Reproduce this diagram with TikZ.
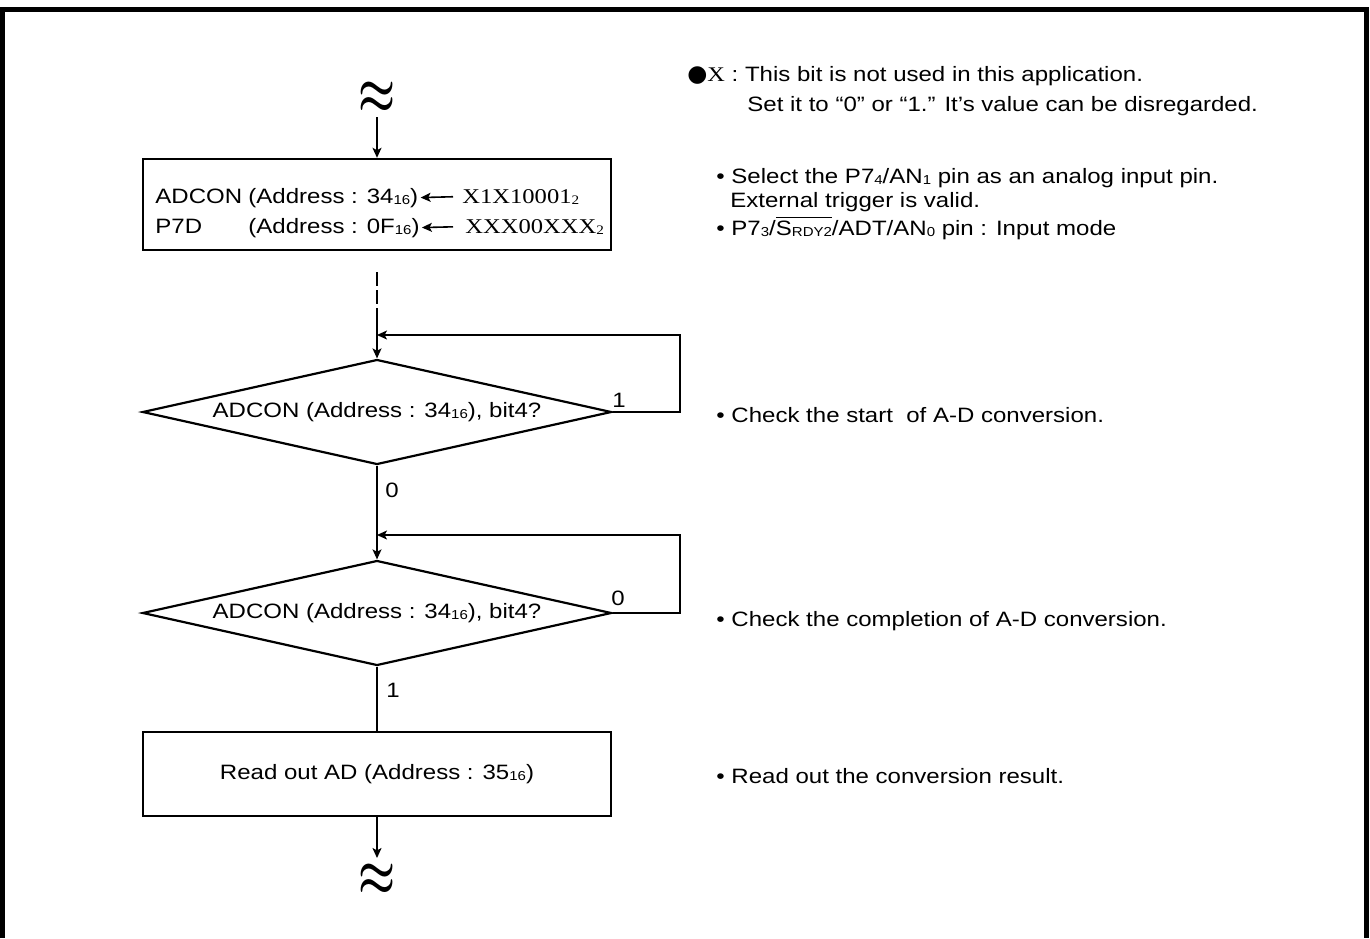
\documentclass[tikz,border=0pt]{standalone}
\usepackage{fontspec}
\setmainfont{Liberation Sans}[FakeStretch=1.155]
\newfontfamily\serifx{Liberation Serif}[FakeStretch=1.17]
\newfontfamily\dotfont{DejaVu Sans}
\usetikzlibrary{arrows.meta, positioning, calc, shapes.geometric}

% small index digits as printed in the data sheet
\newcommand{\subtxt}[1]{\raisebox{-0.5pt}{\fontsize{6.5}{6.5}\selectfont #1}}
% the break mark above and below the flow
\newcommand{\wavy}{\scalebox{1}[1.4]{\fontsize{21}{21}\selectfont\boldmath$\approx$}}

\begin{document}
\begin{tikzpicture}[x=0.5pt, y=-0.5pt, >={Stealth[length=5pt, width=4.5pt, inset=1.2pt]},
  every node/.style={font=\fontsize{10.4}{12}\selectfont, inner sep=0pt},
  procbox/.style={draw, line width=1.2pt, minimum width=234pt},
  decision/.style={diamond, draw, line width=1.1pt, aspect=4.47,
    minimum width=234.5pt, minimum height=52.5pt},
  flowline/.style={line width=0.8pt},
  loopline/.style={line width=0.6pt},
  note/.style={anchor=base west}]
  \useasboundingbox (0,0) rectangle (1370,938);

  % outer frame (open at the bottom)
  \draw[line width=2.5pt] (2.5,938) -- (2.5,9.5) -- (1366,9.5) -- (1366,938);

  % flow chart
  \node (topwave) at (377,98) {\wavy};
  \coordinate (entry) at (377,117);
  \node[procbox, minimum height=45.5pt] (setbox) at (377,204.5) {};
  \node[decision] (dec1) at (377,412) {ADCON (Address : 34\subtxt{16}), bit4?};
  \node[decision] (dec2) at (377,613) {ADCON (Address : 34\subtxt{16}), bit4?};
  \node[procbox, minimum height=42pt] (readbox) at (377,774) {Read out AD (Address : 35\subtxt{16})};
  \coordinate (exit) at (377,858);
  \node (botwave) at (377,880) {\wavy};

  % register settings in the first box
  \node[note] (adconname) at (155,203) {ADCON};
  \node[note] (adconaddr) at (248,203) {(Address : 34\subtxt{16})};
  \node[note, font=\fontsize{10.5}{12}\serifx] (adconval) at (462,203) {X1X10001\subtxt{2}};
  \node[note] (p7dname) at (155,233) {P7D};
  \node[note] (p7daddr) at (248,233) {(Address : 0F\subtxt{16})};
  \node[note, font=\fontsize{10.5}{12}\serifx] (p7dval) at (465,233) {XXX00XXX\subtxt{2}};
  \draw[flowline, ->, shorten <=4.5pt, shorten >=1pt] (adconval.west) -- (adconaddr.east);
  \draw[flowline, ->, shorten <=6pt, shorten >=1pt] (p7dval.west) -- (p7daddr.east);

  % connectors
  \draw[flowline, ->] (entry) -- (setbox.north);
  \coordinate (gapA) at (377,272);
  \coordinate (gapB) at (377,318);
  \draw[flowline, dash pattern=on 7pt off 2pt] (gapA) -- (gapB);
  \draw[flowline, ->] (gapB) -- (dec1.north);

  % wait for start
  \coordinate (join1) at (377,335);
  \coordinate (loopR1) at (680,335);
  \draw[loopline, ->] (dec1.east) -| (loopR1) -- (join1);
  \node (one1) at (619,400) {1};
  \draw[flowline, ->] (dec1.south) -- (dec2.north);
  \node (zero1) at (392,490) {0};

  % wait for completion
  \coordinate (join2) at (377,535);
  \coordinate (loopR2) at (680,535);
  \draw[loopline, ->] (dec2.east) -| (loopR2) -- (join2);
  \node (zero2) at (618,598) {0};
  \draw[flowline] (dec2.south) -- (readbox.north);
  \node (one2) at (393,690) {1};
  \draw[flowline, ->] (readbox.south) -- (exit);

  % notes on the right
  \node[note] (xnote) at (687,81) {{\dotfont\fontsize{11.5}{12}\selectfont ●}{\serifx X} : This bit is not used in this application.};
  \node[note] (xnote2) at (747,111) {Set it to “0” or “1.” It’s value can be disregarded.};
  \node[note] (selnote) at (716,183) {• Select the P7\subtxt{4}/AN\subtxt{1} pin as an analog input pin.};
  \node[note] (selnote2) at (730,207) {External trigger is valid.};
  \node[note] (pinnote) at (716,235) {• P7\subtxt{3}/$\overline{\hbox{S\subtxt{RDY2}}}$/ADT/AN\subtxt{0} pin : Input mode};
  \node[note] (startnote) at (716,422) {• Check the start~ of A-D conversion.};
  \node[note] (endnote) at (716,626) {• Check the completion of A-D conversion.};
  \node[note] (readnote) at (716,783) {• Read out the conversion result.};
\end{tikzpicture}
\end{document}
